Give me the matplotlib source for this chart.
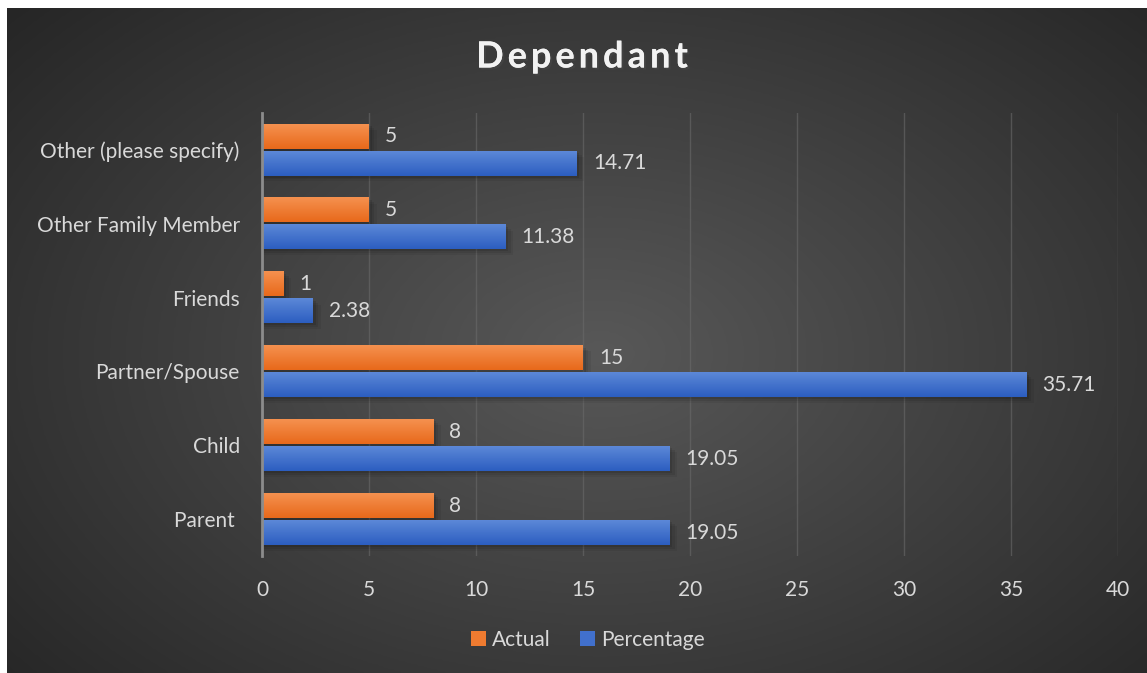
import numpy as np
import matplotlib
matplotlib.use("Agg")
import matplotlib.pyplot as plt
import matplotlib.patheffects as pe
from matplotlib.patches import Patch, Rectangle
from matplotlib.colors import LinearSegmentedColormap

plt.rcParams['font.family'] = ['Lato', 'DejaVu Sans']

categories = ['Parent ', 'Child', 'Partner/Spouse', 'Friends',
              'Other Family Member', 'Other (please specify)']
actual = [8, 8, 15, 1, 5, 5]
percentage = [19.05, 19.05, 35.71, 2.38, 11.38, 14.71]
actual_labels = ['8', '8', '15', '1', '5', '5']
pct_labels = ['19.05', '19.05', '35.71', '2.38', '11.38', '14.71']
title = 'Dependant'

W, H = 1147, 673
fig = plt.figure(figsize=(W / 100, H / 100), dpi=100)
fig.patch.set_facecolor('white')

# dark radial background panel
x0, y0 = 7 / W, 8 / H
bg = fig.add_axes([x0, 0, 1 - x0, 1 - y0], zorder=-5)
yy, xx = np.mgrid[0:1:400j, 0:1:700j]
r = np.sqrt(((xx - 0.52) / 0.75) ** 2 + ((yy - 0.52) / 0.85) ** 2)
shade = np.clip(1 - r, 0, 1)
bg_cmap = LinearSegmentedColormap.from_list('bg', ['#262626', '#585858'])
bg.imshow(shade, cmap=bg_cmap, aspect='auto', extent=[0, 1, 0, 1],
          origin='upper', interpolation='bicubic')
bg.set_axis_off()

ax = fig.add_axes([262 / W, 1 - 556 / H, (1118 - 262) / W, (556 - 113) / H])
ax.set_facecolor('none')

orange_cm = LinearSegmentedColormap.from_list('o', ['#f5914f', '#e8691b'])
blue_cm = LinearSegmentedColormap.from_list('b', ['#5c88d8', '#2c5ec0'])
grad = np.linspace(0, 1, 64).reshape(-1, 1)

off = 0.183
bh = 0.33
y = np.arange(len(categories))
fs = 15


def gradient_bar(ax, yc, val, cmap):
    # soft drop shadow
    for k, a in enumerate([0.10, 0.08, 0.06]):
        d = 0.02 * (k + 1)
        ax.add_patch(Rectangle((0, yc - bh / 2 - d * 1.3), val + d * 6, bh,
                               color='black', alpha=a, lw=0, zorder=2))
    ax.imshow(grad, cmap=cmap, aspect='auto', interpolation='bilinear',
              extent=[0, val, yc - bh / 2, yc + bh / 2], origin='upper',
              zorder=3)


for i in y:
    gradient_bar(ax, i + off, actual[i], orange_cm)
    gradient_bar(ax, i - off, percentage[i], blue_cm)
    ax.text(actual[i] + 0.75, i + off, actual_labels[i], va='center', ha='left',
            color='#d9d9d9', fontsize=fs, zorder=5)
    ax.text(percentage[i] + 0.75, i - off, pct_labels[i], va='center', ha='left',
            color='#d9d9d9', fontsize=fs, zorder=5)

ax.set_xlim(0, 40)
ax.set_ylim(-0.5, 5.5)
ax.set_xticks(np.arange(0, 41, 5))
ax.set_yticks(y)
ax.set_yticklabels(categories)
ax.tick_params(axis='both', colors='#d9d9d9', labelsize=fs, length=0)
ax.tick_params(axis='x', pad=17)
ax.tick_params(axis='y', pad=16)
ax.grid(axis='x', color='#6a6a6a', lw=1, alpha=0.6, zorder=0)
ax.set_axisbelow(True)
for s in ['top', 'right', 'bottom']:
    ax.spines[s].set_visible(False)
ax.spines['left'].set_color('#8c8c8c')
ax.spines['left'].set_linewidth(2)
ax.spines['left'].set_zorder(6)

# title with wide letter spacing, placed one glyph at a time
renderer = fig.canvas.get_renderer()
tkw = dict(color='#f2f2f2', fontsize=26, fontweight='bold', va='center',
           ha='left',
           path_effects=[pe.withSimplePatchShadow(offset=(1.5, -1.5), alpha=0.5),
                         pe.Normal()])
widths = []
for ch in title:
    t = fig.text(0, 0, ch, **tkw)
    widths.append(t.get_window_extent(renderer).width)
    t.remove()
gap = 4.0
total = sum(widths) + gap * (len(title) - 1)
xpos = 582 - total / 2
for ch, w in zip(title, widths):
    fig.text(xpos / W, 1 - 57 / H, ch, **tkw)
    xpos += w + gap

handles = [Patch(facecolor='#ef7b30', label='Actual'),
           Patch(facecolor='#4170cc', label='Percentage')]
fig.legend(handles=handles, loc='center', bbox_to_anchor=(588 / W, 1 - 640 / H),
           ncol=2, frameon=False, fontsize=fs, labelcolor='#d9d9d9',
           handlelength=0.7, handleheight=0.7, handletextpad=0.3,
           columnspacing=1.4)

fig.savefig('out.png', dpi=100, facecolor=fig.get_facecolor())
